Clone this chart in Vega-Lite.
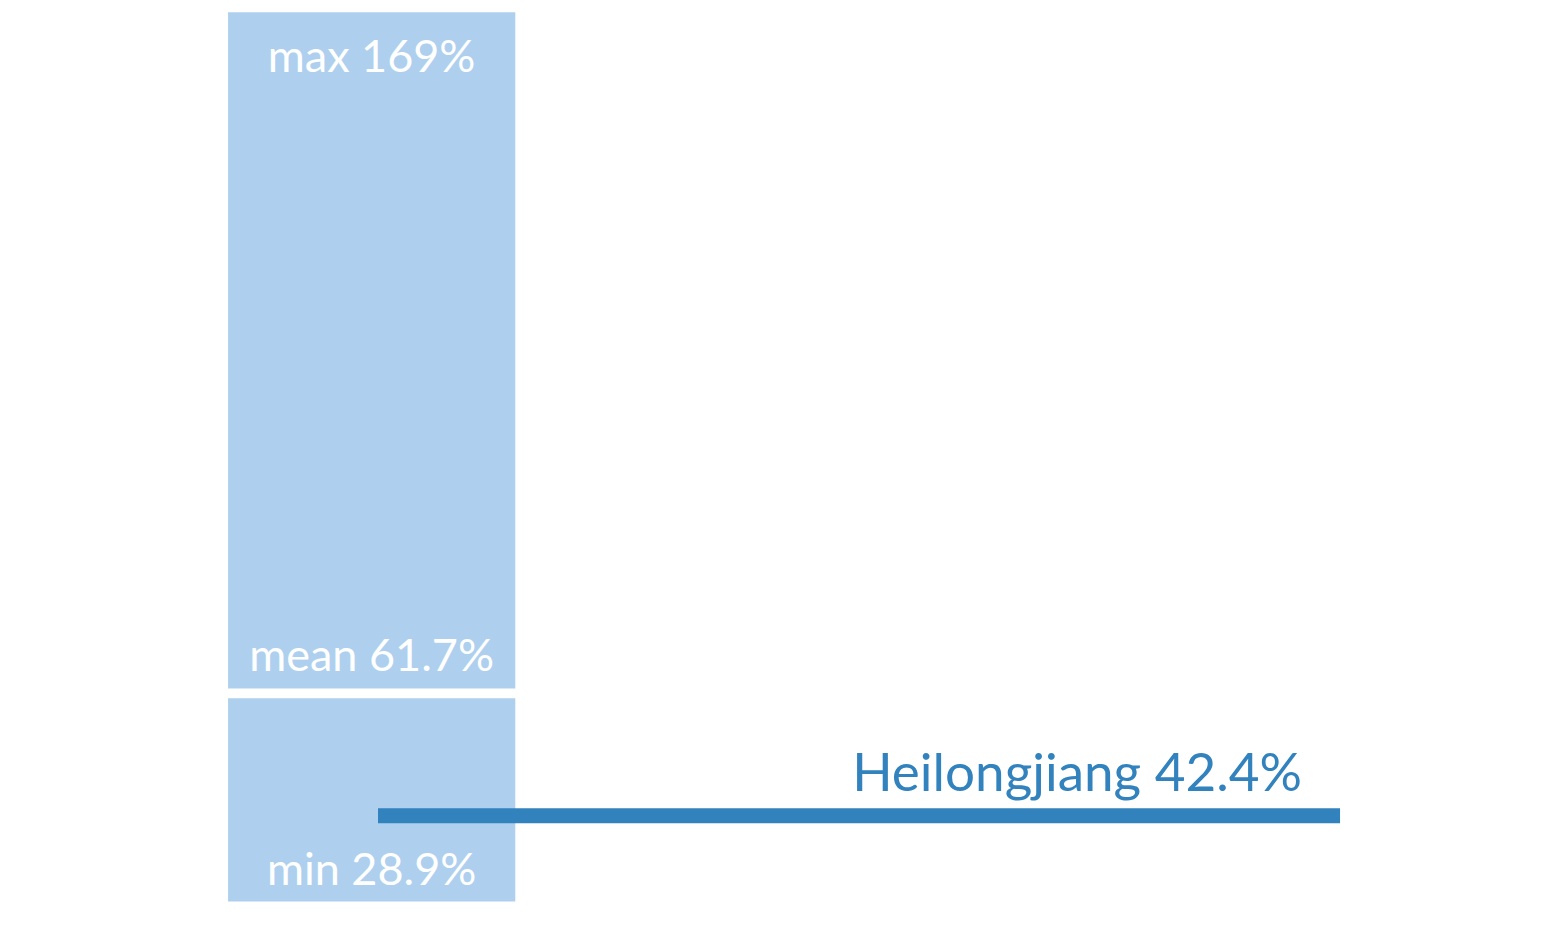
{
  "$schema": "https://vega.github.io/schema/vega-lite/v6.json",
  "width": 1562,
  "height": 937,
  "autosize": {"type": "fit", "contains": "padding"},
  "padding": 0,
  "background": "white",
  "config": {"view": {"stroke": null}, "text": {"font": "Lato"}},
  "data": {"values": [
    {"kind": "stat", "stat": "min", "value": 28.9, "label": "min 28.9%"},
    {"kind": "stat", "stat": "mean", "value": 61.7, "label": "mean 61.7%"},
    {"kind": "stat", "stat": "max", "value": 169, "label": "max 169%"},
    {"kind": "region", "stat": "Heilongjiang", "value": 42.4, "label": "Heilongjiang 42.4%"}
  ]},
  "encoding": {
    "y": {"field": "value", "type": "quantitative", "scale": {"domain": [23.3, 170.95], "nice": false, "zero": false}, "axis": null}
  },
  "layer": [
    {
      "transform": [
        {"filter": "datum.kind === 'stat'"},
        {"aggregate": [{"op": "min", "field": "value", "as": "lo"}, {"op": "max", "field": "value", "as": "hi"}]}
      ],
      "mark": {"type": "rect", "color": "#aed0ee"},
      "encoding": {
        "x": {"datum": 14.6, "type": "quantitative", "scale": {"domain": [0, 100], "nice": false, "zero": false}, "axis": null},
        "x2": {"datum": 32.99},
        "y": {"field": "lo", "type": "quantitative"},
        "y2": {"field": "hi"}
      }
    },
    {
      "transform": [{"filter": "datum.stat === 'mean'"}],
      "mark": {"type": "rule", "color": "white", "strokeWidth": 9.7},
      "encoding": {"x": {"datum": 14.4, "type": "quantitative"}, "x2": {"datum": 33.2}}
    },
    {
      "transform": [{"filter": "datum.kind === 'region'"}],
      "mark": {"type": "rule", "color": "#3182bd", "strokeWidth": 15},
      "encoding": {"x": {"datum": 24.2, "type": "quantitative"}, "x2": {"datum": 85.79}}
    },
    {
      "transform": [{"filter": "datum.stat === 'max'"}],
      "mark": {"type": "text", "align": "center", "baseline": "alphabetic", "dy": 59.5, "fontSize": 45, "color": "white"},
      "encoding": {"x": {"datum": 23.79, "type": "quantitative"}, "text": {"field": "label"}}
    },
    {
      "transform": [{"filter": "datum.stat === 'mean'"}],
      "mark": {"type": "text", "align": "center", "baseline": "alphabetic", "dy": -22.5, "fontSize": 45, "color": "white"},
      "encoding": {"x": {"datum": 23.79, "type": "quantitative"}, "text": {"field": "label"}}
    },
    {
      "transform": [{"filter": "datum.stat === 'min'"}],
      "mark": {"type": "text", "align": "center", "baseline": "alphabetic", "dy": -16.5, "fontSize": 45, "color": "white"},
      "encoding": {"x": {"datum": 23.79, "type": "quantitative"}, "text": {"field": "label"}}
    },
    {
      "transform": [{"filter": "datum.kind === 'region'"}],
      "mark": {"type": "text", "align": "right", "baseline": "alphabetic", "dy": -25, "fontSize": 53, "color": "#3182bd"},
      "encoding": {"x": {"datum": 83.35, "type": "quantitative"}, "text": {"field": "label"}}
    }
  ]
}
